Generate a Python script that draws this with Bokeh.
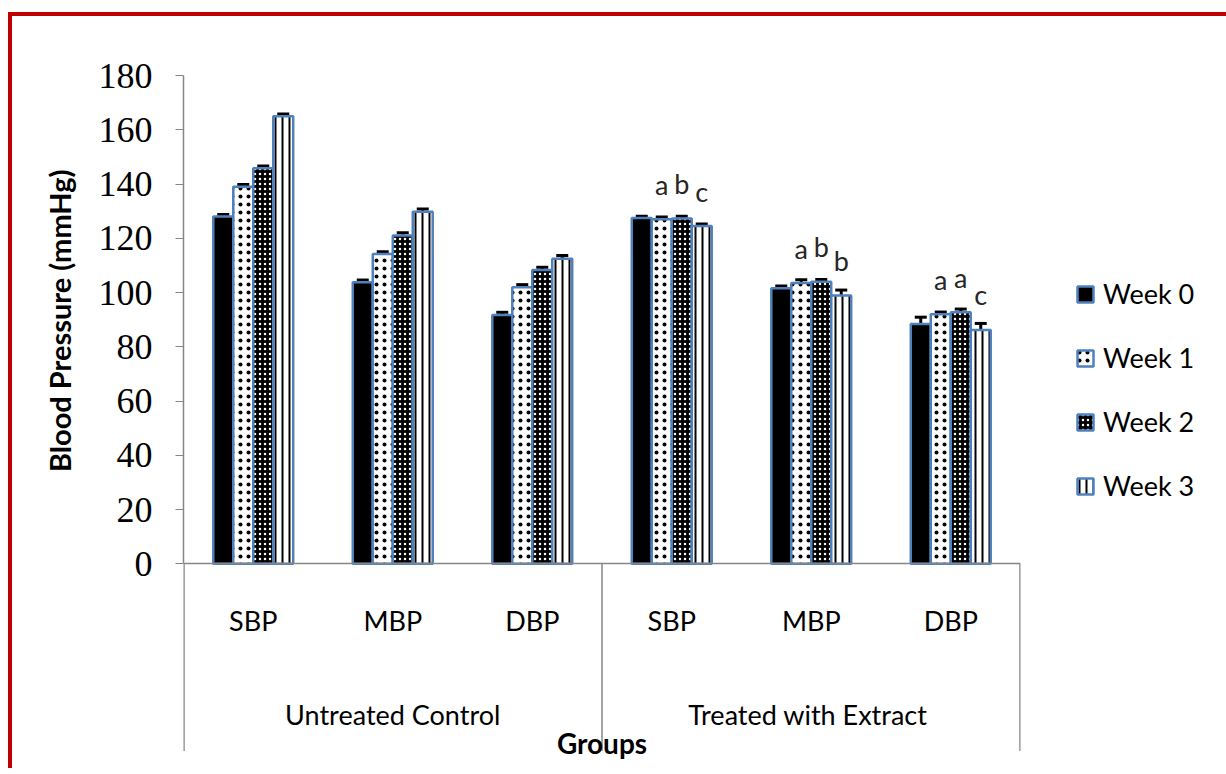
from bokeh.plotting import figure
from bokeh.models import (FactorRange, Range1d, CategoricalAxis, FixedTicker, Whisker,
                          ColumnDataSource, Legend, LegendItem, TeeHead, Label, Title)
from bokeh.transform import dodge
from bokeh.core.properties import value
from bokeh.embed import file_html
from bokeh.resources import INLINE

# ---- data ----
groups = ["Untreated Control", "Treated with  Extract"]
measures = ["SBP", "MBP", "DBP"]
weeks = ["Week 0", "Week 1", "Week 2", "Week 3"]

week0 = [128.0, 103.8, 91.7, 127.5, 101.6, 88.4]
week1 = [139.0, 114.2, 101.9, 127.0, 103.5, 92.0]
week2 = [145.8, 121.0, 108.3, 127.3, 104.0, 92.7]
week3 = [165.0, 129.8, 112.4, 124.5, 98.9, 86.2]

err0 = [0.8, 0.8, 1.0, 0.6, 0.8, 2.5]
err1 = [0.8, 0.8, 1.0, 0.8, 1.2, 0.8]
err2 = [0.8, 1.0, 1.0, 0.8, 0.8, 1.2]
err3 = [0.8, 1.0, 1.2, 0.8, 2.0, 2.4]

letters0 = ["", "", "", "", "", ""]
letters1 = ["", "", "", "a", "a", "a"]
letters2 = ["", "", "", "b", "b", "a"]
letters3 = ["", "", "", "c", "b", "c"]

y_ticks = [0, 20, 40, 60, 80, 100, 120, 140, 160, 180]
y_title = "Blood Pressure (mmHg)"
x_title = "Groups"

# ---- build ----
factors = [(g, m) for g in groups for m in measures]
vals = [week0, week1, week2, week3]
errs = [err0, err1, err2, err3]
lets = [letters0, letters1, letters2, letters3]

data = dict(x=factors)
for i in range(4):
    data[f"w{i}"] = vals[i]
    data[f"up{i}"] = [v + e for v, e in zip(vals[i], errs[i])]
    data[f"lo{i}"] = [v - e for v, e in zip(vals[i], errs[i])]
    data[f"l{i}"] = lets[i]
source = ColumnDataSource(data)

FONT = "Lato"
AXIS_GREY = "#868686"

x_range = FactorRange(*factors, range_padding=0, factor_padding=0, group_padding=0,
                      subgroup_padding=0)
p = figure(x_range=x_range, y_range=Range1d(-74, 180),
           frame_width=837, frame_height=689,
           min_border_left=171, min_border_top=59, min_border_right=196, min_border_bottom=4,
           output_backend="svg", toolbar_location=None, x_axis_location=None,
           styles={"border-left": "4px solid #C00000", "border-top": "4px solid #C00000",
                   "margin-top": "12px", "margin-left": "8px"})
p.outline_line_color = None
p.grid.grid_line_color = None
p.background_fill_color = "white"
p.border_fill_color = "white"

offsets = [-0.215, -0.0717, 0.0717, 0.215]
bar_w = 0.143
bar_styles = [
    dict(fill_color="black"),
    dict(fill_color="white", hatch_pattern="dot", hatch_color="black", hatch_scale=8, hatch_weight=2),
    dict(fill_color="black", hatch_pattern="dot", hatch_color="white", hatch_scale=5, hatch_weight=2.5),
    dict(fill_color="white", hatch_pattern="vertical_line", hatch_color="black", hatch_scale=7, hatch_weight=2),
]

renderers = []
for i in range(4):
    xs = dodge("x", offsets[i], range=p.x_range)
    r = p.vbar(x=xs, top=f"w{i}", bottom=0, width=bar_w, source=source,
               line_color="#4F81BD", line_width=2.5, **bar_styles[i])
    renderers.append(r)
    wk = Whisker(source=source, base=xs, upper=f"up{i}", lower=f"lo{i}",
                 line_color="black", line_width=3,
                 upper_head=TeeHead(size=12, line_width=3, line_color="black"),
                 lower_head=TeeHead(size=12, line_width=3, line_color="black"))
    p.add_layout(wk)
    p.text(x=xs, y=f"w{i}", text=f"l{i}", source=source, text_align="center",
           text_baseline="alphabetic", y_offset=-35, text_font=value(FONT),
           text_font_size="27px", text_color="#262626")

# separators below the axis (left edge, group boundary, right edge)
p.segment(x0=[0, 3, 6], x1=[0, 3, 6], y0=[0, 0, 0], y1=[-69, -69, -69],
          line_color=AXIS_GREY, line_width=[2.5, 1.5, 2.5])

# y axis
ya = p.yaxis[0]
ya.ticker = FixedTicker(ticks=y_ticks)
ya.bounds = (0, 180)
ya.major_tick_out = 8
ya.major_tick_in = 0
ya.minor_tick_line_color = None
ya.axis_line_color = AXIS_GREY
ya.axis_line_width = 1.5
ya.major_tick_line_color = AXIS_GREY
ya.major_label_text_font = "Liberation Serif"
ya.major_label_text_font_size = "36px"
ya.major_label_text_color = "black"
ya.major_label_standoff = 23

p.add_layout(Title(text=y_title, align="right", offset=94, standoff=38,
                   text_font=FONT, text_font_style="bold", text_font_size="29px",
                   text_color="black"), "left")

# x axis (measures) at y = 0
xa = CategoricalAxis(fixed_location=0, axis_line_color=AXIS_GREY, axis_line_width=1.5,
                     major_tick_line_color=None, minor_tick_line_color=None,
                     major_tick_out=0, major_tick_in=0,
                     major_label_standoff=40, major_label_text_font=FONT,
                     major_label_text_font_size="27px", major_label_text_color="black",
                     group_text_color=None, separator_line_color=None)
p.add_layout(xa, "below")

# group labels axis
p.extra_x_ranges = {"grp": FactorRange(*groups, range_padding=0, factor_padding=0)}
ga = CategoricalAxis(x_range_name="grp", fixed_location=-49.5, axis_line_color=None,
                     major_tick_line_color=None, minor_tick_line_color=None,
                     major_tick_out=0, major_tick_in=0, major_label_standoff=0,
                     major_label_text_font=FONT, major_label_text_font_size="27px",
                     major_label_text_color="black")
p.add_layout(ga, "below")

p.add_layout(Label(x=3, y=-66, text=x_title, text_align="center", text_baseline="middle",
                   text_font=FONT, text_font_style="bold", text_font_size="28px",
                   text_color="black"))

legend = Legend(items=[LegendItem(label=weeks[i], renderers=[renderers[i]]) for i in range(4)],
                location=(55, 262), border_line_color=None, background_fill_alpha=0,
                label_text_font=FONT, label_text_font_size="27px", label_text_color="black",
                glyph_width=20, glyph_height=20, label_standoff=8, spacing=31,
                padding=0, margin=0)
p.add_layout(legend, "right")

open("out.html", "w").write(file_html(p, INLINE))
